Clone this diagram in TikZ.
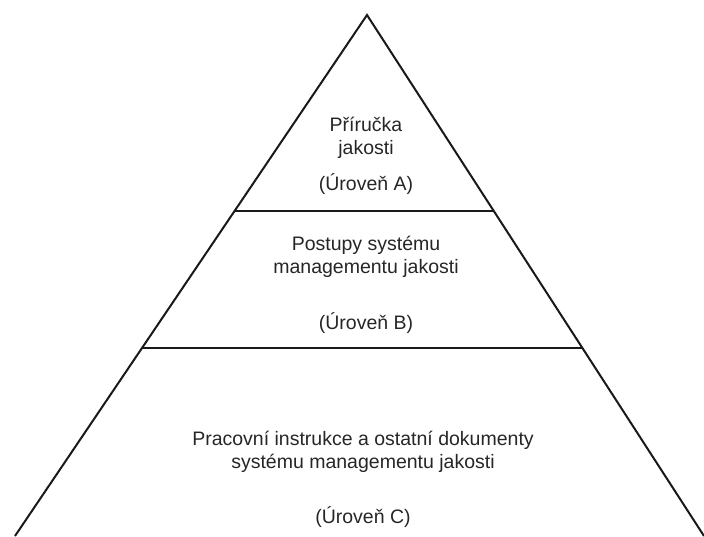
\documentclass[tikz,border=0pt]{standalone}
\usepackage{fontspec}
\setmainfont{Liberation Sans}
\usetikzlibrary{calc}
\tikzset{
  edge/.style={line width=2pt, line join=miter, black!90},
  lbl/.style={anchor=base, inner sep=0pt, font=\fontsize{19.5}{23}\selectfont, text=black!85}
}
\begin{document}
\begin{tikzpicture}[x=1pt,y=1pt]
\useasboundingbox (0,0) rectangle (704,536);
\coordinate (apex) at (367,521);
\coordinate (bl) at (15,0);
\coordinate (br) at (704,0);
\draw[edge] (bl) -- (apex) -- (br);
\coordinate (aL) at ($(apex)!0.376!(bl)$);
\coordinate (aR) at ($(apex)!0.376!(br)$);
\coordinate (bL) at ($(apex)!0.639!(bl)$);
\coordinate (bR) at ($(apex)!0.639!(br)$);
\draw[edge] (aL) -- (aR);
\draw[edge] (bL) -- (bR);
% level A
\node[lbl] (a1) at (366,404) {Příručka};
\node[lbl] (a2) at (366,381) {jakosti};
\node[lbl] (a3) at (366,345) {(Úroveň A)};
% level B
\node[lbl] (b1) at (366,285) {Postupy systému};
\node[lbl] (b2) at (366,262) {managementu jakosti};
\node[lbl] (b3) at (366,207) {(Úroveň B)};
% level C
\node[lbl] (c1) at (363,91) {Pracovní instrukce a ostatní dokumenty};
\node[lbl] (c2) at (363,68) {systému managementu jakosti};
\node[lbl] (c3) at (363,13) {(Úroveň C)};
\end{tikzpicture}
\end{document}
